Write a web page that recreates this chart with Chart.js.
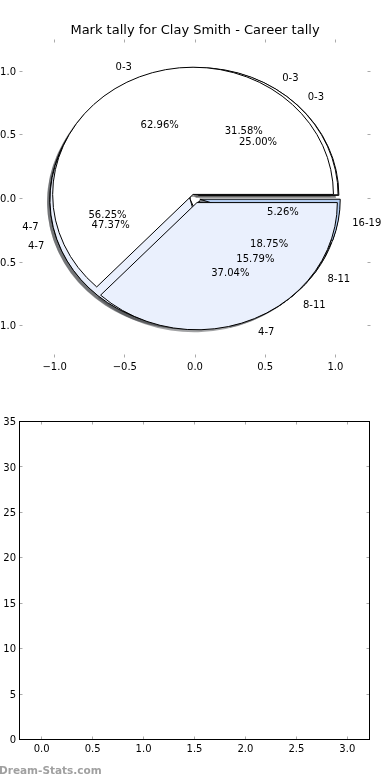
<!DOCTYPE html>
<html>
<head>
<meta charset="utf-8">
<script src="https://cdn.jsdelivr.net/npm/chart.js@4.4.1/dist/chart.umd.min.js"></script>
<style>
  html, body { margin: 0; padding: 0; background: #fff; }
  #wrap { position: relative; width: 390px; height: 780px; overflow: hidden; }
  canvas { position: absolute; left: 0; }
  #pieChart { top: 0; }
  #tallyChart { top: 390px; }
</style>
</head>
<body>
<div id="wrap">
  <canvas id="pieChart" width="390" height="390"></canvas>
  <canvas id="tallyChart" width="390" height="390"></canvas>
</div>
<script>
// --- data ---
const titleText = 'Mark tally for Clay Smith - Career tally';

// three tallies drawn on top of each other, last one on top
const pieCLabels = ['0-3', '4-7', '8-11'];
const pieCCounts = [4, 9, 3];
const pieBLabels = ['0-3', '4-7', '8-11', '16-19'];
const pieBCounts = [6, 9, 3, 1];
const pieALabels = ['0-3', '4-7'];
const pieACounts = [17, 10];

const pieTicks   = [-1.0, -0.5, 0.0, 0.5, 1.0];
const tallyXTicks = [0.0, 0.5, 1.0, 1.5, 2.0, 2.5, 3.0];
const tallyYTicks = [0, 5, 10, 15, 20, 25, 30, 35];

const sliceColours = { '0-3': '#ffffff', '4-7': '#eaf0fd', '8-11': '#e6edfc', '16-19': '#b3ccf0' };
const EXPLODE = 0.035;
const FONT = '"DejaVu Sans", "Liberation Sans", sans-serif';

// split counts into wedges (angles in degrees, counter-clockwise from east)
function wedgesOf(labels, counts) {
  const total = counts.reduce((a, b) => a + b, 0);
  let start = 0;
  return counts.map((c, i) => {
    const sweep = 360 * c / total;
    const mid = (start + sweep / 2) * Math.PI / 180;
    const w = {
      label: labels[i], pct: 100 * c / total, a1: start, a2: start + sweep, mid,
      cx: EXPLODE * Math.cos(mid), cy: EXPLODE * Math.sin(mid)
    };
    start += sweep;
    return w;
  });
}

const pies = [
  wedgesOf(pieCLabels, pieCCounts),
  wedgesOf(pieBLabels, pieBCounts),
  wedgesOf(pieALabels, pieACounts)
];

function wedgePath(ctx, xs, ys, cx, cy, a1, a2) {
  const X = xs.getPixelForValue(cx), Y = ys.getPixelForValue(cy);
  const rx = xs.getPixelForValue(cx + 1) - X;
  const ry = Y - ys.getPixelForValue(cy + 1);
  ctx.beginPath();
  ctx.moveTo(X, Y);
  ctx.ellipse(X, Y, rx, ry, 0, -a1 * Math.PI / 180, -a2 * Math.PI / 180, true);
  ctx.closePath();
}

function shade(hex) {
  const n = parseInt(hex.slice(1), 16);
  const r = Math.round(((n >> 16) & 255) * 0.3), g = Math.round(((n >> 8) & 255) * 0.3), b = Math.round((n & 255) * 0.3);
  return `rgba(${r},${g},${b},0.5)`;
}

// pie wedges drawn on the scatter chart's own scales
const piePlugin = {
  id: 'overlaidPies',
  beforeDatasetsDraw(chart) {
    const ctx = chart.ctx, xs = chart.scales.x, ys = chart.scales.y;
    ctx.save();
    // shadows sit under every wedge
    pies.forEach(p => p.forEach(w => {
      wedgePath(ctx, xs, ys, w.cx - 0.02, w.cy - 0.02, w.a1, w.a2);
      ctx.fillStyle = shade(sliceColours[w.label]);
      ctx.fill();
    }));
    pies.forEach(p => p.forEach(w => {
      wedgePath(ctx, xs, ys, w.cx, w.cy, w.a1, w.a2);
      ctx.fillStyle = sliceColours[w.label];
      ctx.fill();
      ctx.lineWidth = 1;
      ctx.strokeStyle = '#000';
      ctx.stroke();
    }));
    // labels and percentages
    ctx.font = '10px ' + FONT;
    ctx.fillStyle = '#000';
    ctx.textBaseline = 'middle';
    pies.forEach(p => p.forEach(w => {
      const lx = w.cx + 1.1 * Math.cos(w.mid), ly = w.cy + 1.1 * Math.sin(w.mid);
      ctx.textAlign = lx > 0 ? 'left' : 'right';
      ctx.fillText(w.label, xs.getPixelForValue(lx), ys.getPixelForValue(ly) + 1);
      const px = w.cx + 0.6 * Math.cos(w.mid), py = w.cy + 0.6 * Math.sin(w.mid);
      ctx.textAlign = 'center';
      ctx.fillText(w.pct.toFixed(2) + '%', xs.getPixelForValue(px), ys.getPixelForValue(py) + 1);
    }));
    ctx.restore();
  }
};

// matplotlib-like axes: inward ticks on all sides, optional frame
const axesPlugin = {
  id: 'mplAxes',
  afterDraw(chart, args, opts) {
    const ctx = chart.ctx, a = chart.chartArea, xs = chart.scales.x, ys = chart.scales.y;
    ctx.save();
    ctx.lineWidth = 1;
    ctx.strokeStyle = '#aaaaaa';
    ctx.beginPath();
    opts.xTicks.forEach(v => {
      const p = Math.floor(xs.getPixelForValue(v)) + 0.5;
      ctx.moveTo(p, a.top); ctx.lineTo(p, a.top + 3);
      ctx.moveTo(p, a.bottom); ctx.lineTo(p, a.bottom - 3);
    });
    opts.yTicks.forEach(v => {
      const p = Math.floor(ys.getPixelForValue(v)) + 0.5;
      ctx.moveTo(a.left, p); ctx.lineTo(a.left + 3, p);
      ctx.moveTo(a.right, p); ctx.lineTo(a.right - 3, p);
    });
    ctx.stroke();
    if (opts.frame) {
      ctx.strokeStyle = '#000';
      ctx.strokeRect(a.left, a.top, a.right - a.left, a.bottom - a.top);
    }
    ctx.fillStyle = '#000';
    ctx.font = '10px ' + FONT;
    ctx.textBaseline = 'middle';
    ctx.textAlign = 'center';
    opts.xTicks.forEach(v => ctx.fillText(opts.fmt(v, opts.xDigits), xs.getPixelForValue(v), a.bottom + 10));
    ctx.textAlign = 'right';
    opts.yTicks.forEach(v => ctx.fillText(opts.fmt(v, opts.yDigits), a.left - 3.5, ys.getPixelForValue(v) + 1));
    if (opts.title) {
      ctx.font = '13px ' + FONT;
      ctx.textAlign = 'center';
      ctx.textBaseline = 'alphabetic';
      ctx.fillText(opts.title, (a.left + a.right) / 2, 34);
    }
    if (opts.mark) {
      ctx.font = 'bold 10.5px ' + FONT;
      ctx.fillStyle = '#a0a0a0';
      ctx.textAlign = 'left';
      ctx.textBaseline = 'middle';
      ctx.fillText(opts.mark, -1, 381);
    }
    ctx.restore();
  }
};

const fmt = (v, d) => (v < 0 ? '\u2212' : '') + Math.abs(v).toFixed(d);

new Chart(document.getElementById('pieChart'), {
  type: 'scatter',
  data: { datasets: [] },
  options: {
    responsive: false,
    animation: false,
    layout: { padding: { left: 19.5, right: 19.5, top: 39.5, bottom: 32.5 } },
    scales: {
      x: { type: 'linear', display: false, min: -1.25, max: 1.25 },
      y: { type: 'linear', display: false, min: -1.25, max: 1.25 }
    },
    plugins: {
      legend: { display: false },
      tooltip: { enabled: false },
      mplAxes: { xTicks: pieTicks, yTicks: pieTicks, xDigits: 1, yDigits: 1, fmt, frame: false, title: titleText }
    }
  },
  plugins: [piePlugin, axesPlugin]
});

new Chart(document.getElementById('tallyChart'), {
  type: 'scatter',
  data: { datasets: [] },
  options: {
    responsive: false,
    animation: false,
    layout: { padding: { left: 19.5, right: 20.5, top: 31.5, bottom: 40.5 } },
    scales: {
      x: { type: 'linear', display: false, min: -0.218, max: 3.218 },
      y: { type: 'linear', display: false, min: 0, max: 35 }
    },
    plugins: {
      legend: { display: false },
      tooltip: { enabled: false },
      mplAxes: { xTicks: tallyXTicks, yTicks: tallyYTicks, xDigits: 1, yDigits: 0, fmt, frame: true, mark: 'Dream-Stats.com' }
    }
  },
  plugins: [axesPlugin]
});
</script>
</body>
</html>
